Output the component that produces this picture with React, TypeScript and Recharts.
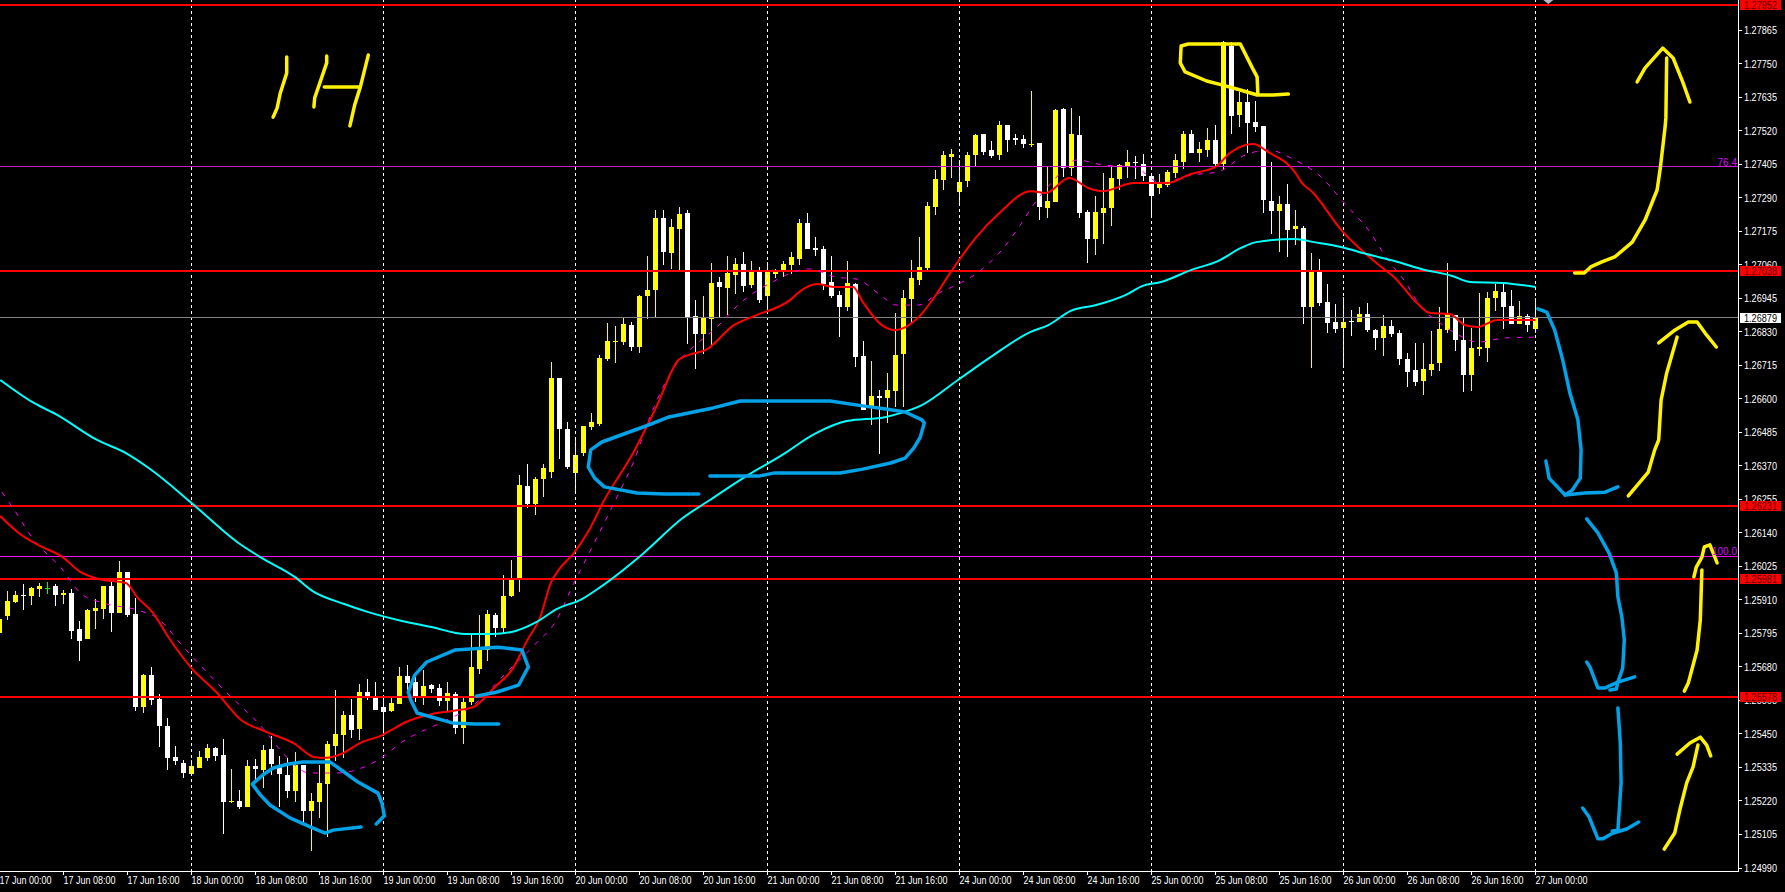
import { Bar, ComposedChart, Line, ReferenceDot, ReferenceLine, XAxis, YAxis } from "recharts"

// GBPUSD H1, all prices in points (1.26879 = 126879)
const POINT = 100000

const opens = [
  125797, 125854, 125903, 125927, 125924, 125948, 125951, 125958, 125927, 125934, 125810, 125776, 125872, 125879, 125958, 125865,
  126006, 125862, 125542, 125652, 125570, 125477, 125371, 125350, 125313, 125333, 125368, 125402, 125378, 125216, 125220, 125199,
  125340, 125326, 125398, 125343, 125309, 125254, 125343, 125186, 125216, 125278, 125409, 125447, 125515, 125467, 125594, 125577,
  125542, 125529, 125553, 125649, 125628, 125580, 125618, 125608, 125563, 125587, 125471, 125560, 125673, 125738, 125858, 125814,
  125924, 125985, 126301, 126239, 126325, 126349, 126672, 126497, 126346, 126414, 126504, 126514, 126737, 126795, 126795, 126853,
  126778, 126953, 126974, 127221, 127101, 127183, 127238, 126885, 126823, 126874, 127001, 126981, 127025, 127063, 126991, 127042,
  126953, 127028, 127035, 127060, 127080, 127204, 127118, 127114, 127001, 126957, 126915, 126994, 126747, 126576, 126610, 126603,
  126627, 126754, 126943, 127008, 127049, 127259, 127351, 127430, 127310, 127348, 127437, 127509, 127454, 127437, 127540, 127495,
  127492, 127471, 127478, 127255, 127276, 127595, 127392, 127506, 127241, 127149, 127238, 127255, 127355, 127399, 127413, 127406,
  127365, 127324, 127334, 127375, 127413, 127509, 127444, 127454, 127488, 127406, 127811, 127574, 127619, 127550, 127537, 127279,
  127245, 127269, 127183, 127187, 126915, 127042, 126933, 126864, 126843, 126867, 126864, 126891, 126836, 126809, 126850, 126826,
  126737, 126699, 126661, 126699, 126723, 126836, 126888, 126802, 126682, 126771, 126775, 126946, 126967, 126919, 126857, 126885,
  126840,
]
const highs = [
  125844, 125941, 125941, 125965, 125954, 125968, 125971, 125965, 125944, 125948, 125838, 125879, 125913, 125958, 125978, 126044,
  126006, 125917, 125656, 125680, 125587, 125505, 125409, 125361, 125361, 125392, 125416, 125405, 125433, 125330, 125258, 125361,
  125364, 125412, 125443, 125375, 125368, 125388, 125343, 125247, 125343, 125426, 125601, 125529, 125570, 125621, 125638, 125628,
  125574, 125580, 125680, 125687, 125663, 125670, 125621, 125621, 125628, 125594, 125580, 125790, 125858, 125875, 125865, 125996,
  126047, 126339, 126377, 126332, 126377, 126727, 126672, 126521, 126459, 126507, 126552, 126751, 126860, 126850, 126881, 126864,
  126957, 127090, 127248, 127248, 127217, 127259, 127248, 126939, 126953, 127066, 127018, 127090, 127084, 127104, 127073, 127053,
  127070, 127046, 127073, 127104, 127217, 127238, 127156, 127125, 127090, 126970, 127073, 126998, 126799, 126730, 126631, 126689,
  126895, 126974, 127077, 127156, 127276, 127386, 127451, 127458, 127420, 127447, 127509, 127509, 127485, 127554, 127540, 127509,
  127506, 127657, 127478, 127399, 127595, 127598, 127598, 127571, 127248, 127296, 127375, 127396, 127406, 127454, 127434, 127440,
  127365, 127372, 127386, 127440, 127519, 127523, 127482, 127530, 127540, 127828, 127825, 127653, 127663, 127622, 127537, 127413,
  127296, 127338, 127248, 127193, 127101, 127080, 126994, 126926, 126950, 126905, 126915, 126929, 126840, 126888, 126871, 126836,
  126757, 126792, 126792, 126833, 126915, 127066, 126888, 126878, 126843, 126963, 126967, 126994, 127001, 126974, 126936, 126891,
  126946,
]
const lows = [
  125797, 125841, 125900, 125875, 125893, 125920, 125930, 125889, 125896, 125776, 125700, 125776, 125810, 125844, 125800, 125865,
  125851, 125529, 125522, 125550, 125405, 125326, 125343, 125299, 125306, 125333, 125357, 125357, 125107, 125213, 125193, 125199,
  125292, 125265, 125309, 125199, 125230, 125216, 125148, 125048, 125162, 125096, 125357, 125368, 125436, 125429, 125567, 125532,
  125443, 125525, 125553, 125601, 125560, 125550, 125591, 125546, 125525, 125450, 125416, 125550, 125656, 125700, 125783, 125797,
  125920, 125937, 126225, 126201, 126263, 126328, 126394, 126359, 126277, 126404, 126493, 126507, 126730, 126723, 126785, 126764,
  126757, 126874, 126878, 127060, 127046, 127042, 126788, 126703, 126754, 126782, 126881, 126888, 126960, 126967, 126981, 126929,
  126891, 127015, 127018, 127028, 127060, 127114, 127090, 126974, 126946, 126812, 126902, 126709, 126562, 126510, 126411, 126517,
  126572, 126572, 126860, 126991, 127039, 127231, 127317, 127358, 127262, 127327, 127396, 127437, 127427, 127420, 127447, 127471,
  127461, 127464, 127214, 127221, 127276, 127362, 127365, 127221, 127066, 127094, 127132, 127193, 127317, 127358, 127355, 127348,
  127224, 127303, 127327, 127358, 127389, 127444, 127413, 127430, 127396, 127386, 127509, 127533, 127444, 127516, 127238, 127166,
  127104, 127087, 127128, 126857, 126706, 126919, 126826, 126826, 126709, 126816, 126864, 126830, 126768, 126747, 126812, 126716,
  126641, 126644, 126613, 126679, 126696, 126826, 126764, 126624, 126627, 126747, 126727, 126902, 126840, 126857, 126857, 126830,
  126826,
]
const closes = [
  125844, 125907, 125927, 125924, 125951, 125958, 125951, 125927, 125934, 125803, 125769, 125875, 125882, 125958, 125865, 126006,
  125858, 125542, 125652, 125567, 125477, 125368, 125357, 125316, 125340, 125371, 125402, 125375, 125216, 125220, 125199, 125340,
  125330, 125395, 125347, 125313, 125254, 125343, 125186, 125220, 125282, 125416, 125450, 125515, 125464, 125594, 125577, 125532,
  125525, 125556, 125649, 125625, 125580, 125614, 125604, 125563, 125591, 125471, 125560, 125680, 125742, 125862, 125814, 125924,
  125985, 126305, 126239, 126325, 126363, 126672, 126497, 126366, 126407, 126507, 126521, 126740, 126799, 126799, 126857, 126778,
  126953, 126974, 127221, 127104, 127190, 127235, 126881, 126823, 126878, 126998, 126984, 127032, 127063, 126988, 127042, 126939,
  127039, 127035, 127063, 127087, 127204, 127114, 127111, 126994, 126953, 126915, 126998, 126744, 126562, 126610, 126603, 126631,
  126751, 126946, 127015, 127053, 127262, 127355, 127437, 127440, 127344, 127437, 127506, 127447, 127434, 127540, 127488, 127488,
  127475, 127475, 127259, 127279, 127591, 127392, 127509, 127238, 127149, 127241, 127255, 127358, 127403, 127413, 127410, 127365,
  127296, 127338, 127379, 127420, 127509, 127444, 127458, 127488, 127406, 127825, 127571, 127619, 127547, 127533, 127283, 127245,
  127269, 127180, 127193, 126915, 127042, 126929, 126860, 126840, 126864, 126864, 126891, 126836, 126809, 126850, 126823, 126737,
  126692, 126658, 126703, 126720, 126840, 126891, 126802, 126682, 126775, 126778, 126946, 126970, 126915, 126857, 126885, 126853,
  126879,
]

const timeLabels = [
  "17 Jun 00:00", "17 Jun 08:00", "17 Jun 16:00", "18 Jun 00:00", "18 Jun 08:00", "18 Jun 16:00", "19 Jun 00:00", "19 Jun 08:00", "19 Jun 16:00",
  "20 Jun 00:00", "20 Jun 08:00", "20 Jun 16:00", "21 Jun 00:00", "21 Jun 08:00", "21 Jun 16:00", "24 Jun 00:00", "24 Jun 08:00", "24 Jun 16:00",
  "25 Jun 00:00", "25 Jun 08:00", "25 Jun 16:00", "26 Jun 00:00", "26 Jun 08:00", "26 Jun 16:00", "27 Jun 00:00",
]
const timeTicks = timeLabels.map((_, n) => n * 8)
const dayStarts = [24, 48, 72, 96, 120, 144, 168, 192]

const priceTicks = [
  1.27865, 1.2775, 1.27635, 1.2752, 1.27405, 1.2729, 1.27175, 1.2706, 1.26945, 1.2683, 1.26715, 1.266, 1.26485, 1.2637, 1.26255, 1.2614, 1.26025,
  1.2591, 1.25795, 1.2568, 1.25565, 1.2545, 1.25335, 1.2522, 1.25105, 1.2499,
]
const redLevels = [1.27952, 1.27038, 1.26231, 1.25981, 1.25578]
const lastPrice = 1.26879

// moving averages as [bar, points]
const cyanMa = [
  [0.1, 126665], [4.3, 126586], [7.2, 126545], [12.2, 126459], [15.8, 126414], [19, 126356], [24, 126243], [29.7, 126109], [32.6, 126057], [36.9, 125989],
  [39.1, 125941], [43.1, 125896], [46, 125869], [50.3, 125838], [54, 125817], [58.2, 125793], [61.6, 125793], [64, 125800], [67.1, 125834], [69.7, 125879],
  [72.8, 125913], [75.1, 125954], [80.4, 126068], [85.4, 126191], [88.8, 126253], [93.6, 126339], [97.8, 126407], [101.9, 126480], [105.9, 126524], [110.8, 126538],
  [112.7, 126552], [115.1, 126576], [119.8, 126665], [123.7, 126740], [128.9, 126830], [131.1, 126853], [133.9, 126902], [137.1, 126922], [140.8, 126957], [142.9, 126988],
  [145.2, 127001], [148.9, 127042], [152.3, 127073], [155.2, 127118], [157.1, 127138], [161.9, 127149], [164.3, 127138], [167.7, 127121], [170.9, 127097], [174.8, 127070],
  [177.7, 127046], [181.6, 127022], [183.9, 127001], [187.9, 126998], [192, 126984],
]
const redMa = [
  [0.1, 126198], [2.4, 126140], [4.8, 126099], [7.9, 126057], [10.1, 126006], [12.4, 125982], [15.8, 125968], [17.3, 125917], [19.2, 125865], [21.1, 125783],
  [24, 125676], [27.1, 125594], [30.2, 125498], [33.1, 125460], [36.9, 125416], [39.3, 125371], [40.7, 125368], [42.4, 125378], [45.3, 125422], [47.9, 125447],
  [49, 125464], [50.8, 125491], [54, 125518], [56.6, 125529], [59.2, 125542], [61.8, 125608], [64.2, 125676], [66, 125773], [67.6, 125851], [68.9, 125968],
  [69.9, 126013], [71.8, 126071], [73.7, 126150], [75.6, 126253], [79.2, 126414], [82.1, 126572], [84.9, 126734], [86.2, 126751], [88.3, 126768], [91.8, 126853],
  [94.4, 126885], [98.8, 126939], [100.1, 126970], [102.2, 126994], [104.3, 126984], [106.7, 126984], [107.9, 126933], [110.3, 126853], [111.9, 126836], [114.8, 126878],
  [116.6, 126939], [118.9, 127035], [122, 127152], [125, 127238], [128.9, 127313], [130.8, 127307], [133.7, 127358], [136.1, 127324], [137.9, 127313], [141.8, 127341],
  [146, 127341], [148.9, 127372], [152, 127396], [153.8, 127444], [156.7, 127475], [158.6, 127447], [161.9, 127379], [162.8, 127341], [164.1, 127310], [167.7, 127180],
  [172.9, 127049], [174.3, 127018], [177.2, 126929], [178.8, 126895], [181.3, 126891], [183.2, 126853], [184.8, 126847], [187.2, 126871], [192, 126871],
]
const magentaMa = [
  [0.3, 126280], [1.7, 126225], [4.3, 126116], [7.7, 126020], [10.1, 125934], [12.9, 125900], [17.3, 125875], [19.7, 125848], [23.1, 125745], [27.8, 125608],
  [33.1, 125464], [35.4, 125385], [38.8, 125316], [42.2, 125316], [47.9, 125371], [50.3, 125422], [55.1, 125488], [58.9, 125542], [63.7, 125670], [67.1, 125762],
  [69.4, 125831], [71.8, 125968], [73.7, 126071], [77.6, 126287], [79.2, 126380], [81.3, 126538], [84.7, 126723], [86.3, 126768], [89.7, 126847], [92.6, 126929],
  [96.4, 126998], [101.2, 127046], [104.6, 127018], [107.2, 127011], [109.8, 126963], [112.2, 126922], [114.8, 126922], [117.4, 126963], [119.6, 126991], [122.2, 127032],
  [125.6, 127121], [127.6, 127197], [129.4, 127272], [131.8, 127351], [134.7, 127420], [137.9, 127403], [141.8, 127396], [145.2, 127341], [148.9, 127368], [152.3, 127379],
  [155.7, 127437], [158.6, 127454], [161.9, 127420], [165.2, 127362], [168.1, 127272], [171.4, 127169], [173.3, 127087], [175.8, 126998], [177.7, 126915], [180.1, 126860],
  [182.4, 126819], [184.8, 126795], [188.2, 126809], [192, 126812],
]

// pen marks on top of the chart, same [bar, points]
const blueInk = [
  [[45.2, 125131], [41.7, 125120], [40.7, 125110], [39.2, 125127], [36.3, 125162], [33.8, 125206], [32.6, 125241], [31.6, 125278], [32.9, 125309], [34.2, 125333], [36.1, 125347], [37.9, 125354], [41.3, 125354], [42.9, 125323], [44.8, 125285], [47.3, 125247], [47.8, 125213], [48.1, 125169], [47.1, 125141]],
  [[62.4, 125484], [59.4, 125484], [56.6, 125488], [52.2, 125522], [51.4, 125567], [51.1, 125594], [51.9, 125652], [53.4, 125697], [56.9, 125738], [62.3, 125748], [65.3, 125738], [66.1, 125680], [64.9, 125618], [62.2, 125594], [59.6, 125580]],
  [[87.4, 126274], [83.1, 126274], [79.7, 126277], [75.6, 126298], [74.4, 126328], [73.6, 126366], [73.9, 126425], [75.3, 126452], [80.8, 126507], [83.7, 126538], [89.2, 126569], [92.6, 126593], [103.8, 126593], [107.9, 126576], [110.8, 126565], [113.2, 126555], [115.3, 126528], [115.6, 126517], [115.1, 126469], [114.3, 126432], [113.2, 126397], [111.4, 126380], [107.9, 126359], [105.1, 126346], [96.9, 126346], [94.9, 126335], [88.8, 126335]],
  [[192.3, 126909], [193.4, 126898], [194.4, 126836], [195.4, 126734], [196.3, 126620], [197.3, 126528], [197.7, 126425], [197.6, 126328], [196.6, 126287], [195.7, 126270]],
  [[193.3, 126387], [193.7, 126328], [195.7, 126270], [198.2, 126277], [200.7, 126280], [202.3, 126298]],
  [[198.4, 126188], [199.8, 126140], [201.2, 126071], [202.1, 126003], [202.3, 125920], [202.8, 125851], [203.1, 125773], [202.9, 125676], [202.3, 125628], [202.1, 125604], [201.3, 125601]],
  [[198.4, 125697], [198.8, 125680], [199.8, 125608], [200.7, 125608], [202.3, 125628], [204.4, 125646]],
  [[202.3, 125539], [202.6, 125419], [202.7, 125282], [202.3, 125120], [201.6, 125117]],
  [[197.9, 125196], [198.7, 125165], [199.8, 125090], [200.4, 125090], [201.7, 125110], [203.4, 125124], [204.9, 125148]],
]
const yellowInk = [
  [[35.9, 127773], [35.9, 127718], [35.1, 127650], [34.7, 127598], [34.2, 127567]],
  [[40.9, 127777], [40.9, 127753], [39.4, 127633], [39.3, 127602]],
  [[40.6, 127670], [45.1, 127670]],
  [[46.1, 127780], [45.1, 127670], [44.4, 127609], [44.2, 127585], [43.8, 127537]],
  [[161.1, 127646], [159.2, 127643], [157.2, 127643], [155.1, 127660], [152.9, 127677], [150.9, 127691], [148.2, 127722], [147.6, 127753], [147.7, 127811], [148.6, 127818], [155.1, 127818], [156.6, 127736], [157.2, 127705], [157.3, 127643]],
  [[196.9, 127032], [198.1, 127032], [198.9, 127053], [200.3, 127070], [201.9, 127087], [204.1, 127138], [205.7, 127214], [207.2, 127317], [207.6, 127392], [208.2, 127533], [208.3, 127567], [208.4, 127770]],
  [[204.7, 127688], [205.7, 127736], [207.9, 127804], [209.2, 127770], [210.4, 127688], [211.3, 127619]],
  [[209.7, 126812], [208.4, 126689], [207.7, 126596], [207.4, 126459], [206.9, 126425], [206.1, 126349], [203.6, 126267]],
  [[207.4, 126792], [209.4, 126836], [211.1, 126864], [212.2, 126864], [213.2, 126826], [214.6, 126778]],
  [[212.8, 126013], [212.6, 125841], [212.2, 125738], [211.1, 125625], [210.6, 125597]],
  [[211.8, 125989], [212.1, 126023], [212.8, 126057], [213.1, 126092], [213.8, 126099], [214.7, 126037]],
  [[212.3, 125412], [211.7, 125337], [210.9, 125282], [210.1, 125196], [209.4, 125110], [208.1, 125055]],
  [[209.7, 125381], [211.3, 125419], [212.6, 125439], [213.4, 125412], [213.9, 125375]],
]

const candles = opens.map((open, i) => ({
  i,
  open: open / POINT,
  high: highs[i] / POINT,
  low: lows[i] / POINT,
  close: closes[i] / POINT,
  range: [lows[i] / POINT, highs[i] / POINT],
}))

const toRows = (pairs: number[][]) => pairs.map(([i, pts]) => ({ i, v: pts / POINT }))

const AXIS_FONT = "'Liberation Sans', sans-serif"

function Candle({ x, y, width, height, payload }: any) {
  const top = Math.min(y, y + height)
  const unit = Math.abs(height) / (payload.high - payload.low)
  const cx = x + width / 2
  const bodyTop = top + (payload.high - Math.max(payload.open, payload.close)) * unit
  const bodyH = Math.max(1, Math.abs(payload.open - payload.close) * unit)
  const color = payload.close > payload.open ? "#ffff00" : payload.close < payload.open ? "#ffffff" : "#00ff00"
  return (
    <g shapeRendering="crispEdges">
      <rect x={cx - 0.5} y={top} width={1} height={Math.abs(height)} fill={color} />
      <rect x={cx - 2.5} y={bodyTop} width={5} height={bodyH} fill={color} />
    </g>
  )
}

function TimeTick({ x, y, payload }: any) {
  return (
    <g>
      <line x1={x} y1={871.5} x2={x} y2={875} stroke="#fff" shapeRendering="crispEdges" />
      <text x={x} y={y + 4} fill="#fff" fontSize={11} fontFamily={AXIS_FONT} textLength={52} lengthAdjust="spacingAndGlyphs">
        {timeLabels[payload.value / 8]}
      </text>
    </g>
  )
}

function PriceTick({ x, y, payload }: any) {
  const value = payload.value
  const isRed = redLevels.includes(value)
  const isLast = value === lastPrice
  const tag = isRed || isLast
  return (
    <g>
      {!tag && <line x1={1738} y1={y} x2={1742} y2={y} stroke="#fff" shapeRendering="crispEdges" />}
      {tag && <rect x={1740} y={Math.round(y) - 5} width={41} height={10} fill={isRed ? "#ff0000" : "#fff"} shapeRendering="crispEdges" />}
      <text x={1744} y={y + 4} fill={tag ? (isRed ? "#5a0000" : "#000") : "#fff"} fontSize={11} fontFamily={AXIS_FONT} textLength={33} lengthAdjust="spacingAndGlyphs">
        {value.toFixed(5)}
      </text>
    </g>
  )
}

function ShiftMarker({ cx }: any) {
  return <path d={`M${cx - 5} 0 L${cx + 5} 0 L${cx} 4 Z`} fill="#b8b8c8" />
}

export default function App() {
  return (
    <div style={{ position: "absolute", left: 0, top: 0, width: 1785, height: 892, background: "#000", overflow: "hidden" }}>
      <ComposedChart width={1785} height={892} data={candles} margin={{ top: 0, right: 0, bottom: 0, left: -0.5 }}>
        <XAxis
          dataKey="i"
          type="number"
          domain={[0, 217.3125]}
          allowDataOverflow
          ticks={timeTicks}
          interval={0}
          height={20.5}
          axisLine={{ stroke: "#fff", shapeRendering: "crispEdges" }}
          tickLine={false}
          tick={<TimeTick />}
        />
        <YAxis
          type="number"
          orientation="right"
          domain={[1.24978, 1.27969]}
          allowDataOverflow
          ticks={[...priceTicks, ...redLevels, lastPrice]}
          interval={0}
          width={47}
          axisLine={{ stroke: "#fff", shapeRendering: "crispEdges" }}
          tickLine={false}
          tick={<PriceTick />}
        />
        {dayStarts.map((d) => (
          <ReferenceLine key={d} x={d} stroke="#fff" strokeDasharray="3 3" shapeRendering="crispEdges" />
        ))}
        {redLevels.map((p) => (
          <ReferenceLine key={p} y={p} stroke="#ff0000" strokeWidth={2} shapeRendering="crispEdges" />
        ))}
        <ReferenceLine y={lastPrice} stroke="#808080" shapeRendering="crispEdges" />
        <ReferenceLine
          y={1.27396}
          stroke="#c81ec8"
          shapeRendering="crispEdges"
          label={{ value: "76.4", position: "insideBottomRight", offset: 1, fill: "#d010f0", fontSize: 10, fontFamily: AXIS_FONT }}
        />
        <ReferenceLine
          y={1.2606}
          stroke="#ee11ee"
          shapeRendering="crispEdges"
          label={{ value: "100.0", position: "insideBottomRight", offset: 1, fill: "#d010f0", fontSize: 10, fontFamily: AXIS_FONT }}
        />
        <ReferenceDot x={193.6} y={1.27969} ifOverflow="visible" shape={<ShiftMarker />} />
        <Bar dataKey="range" barSize={5} isAnimationActive={false} shape={<Candle />} />
        <Line data={toRows(magentaMa)} dataKey="v" type="monotoneX" stroke="#ff00ff" strokeWidth={1} strokeDasharray="5 7" dot={false} activeDot={false} isAnimationActive={false} />
        <Line data={toRows(redMa)} dataKey="v" type="monotoneX" stroke="#ff0000" strokeWidth={2} dot={false} activeDot={false} isAnimationActive={false} />
        <Line data={toRows(cyanMa)} dataKey="v" type="monotoneX" stroke="#00ffff" strokeWidth={2} dot={false} activeDot={false} isAnimationActive={false} />
        {blueInk.map((stroke, n) => (
          <Line key={`b${n}`} data={toRows(stroke)} dataKey="v" type="linear" stroke="#00a2e8" strokeWidth={3.5} strokeLinejoin="round" strokeLinecap="round" dot={false} activeDot={false} isAnimationActive={false} />
        ))}
        {yellowInk.map((stroke, n) => (
          <Line key={`y${n}`} data={toRows(stroke)} dataKey="v" type="linear" stroke="#fff200" strokeWidth={3.5} strokeLinejoin="round" strokeLinecap="round" dot={false} activeDot={false} isAnimationActive={false} />
        ))}
      </ComposedChart>
    </div>
  )
}
